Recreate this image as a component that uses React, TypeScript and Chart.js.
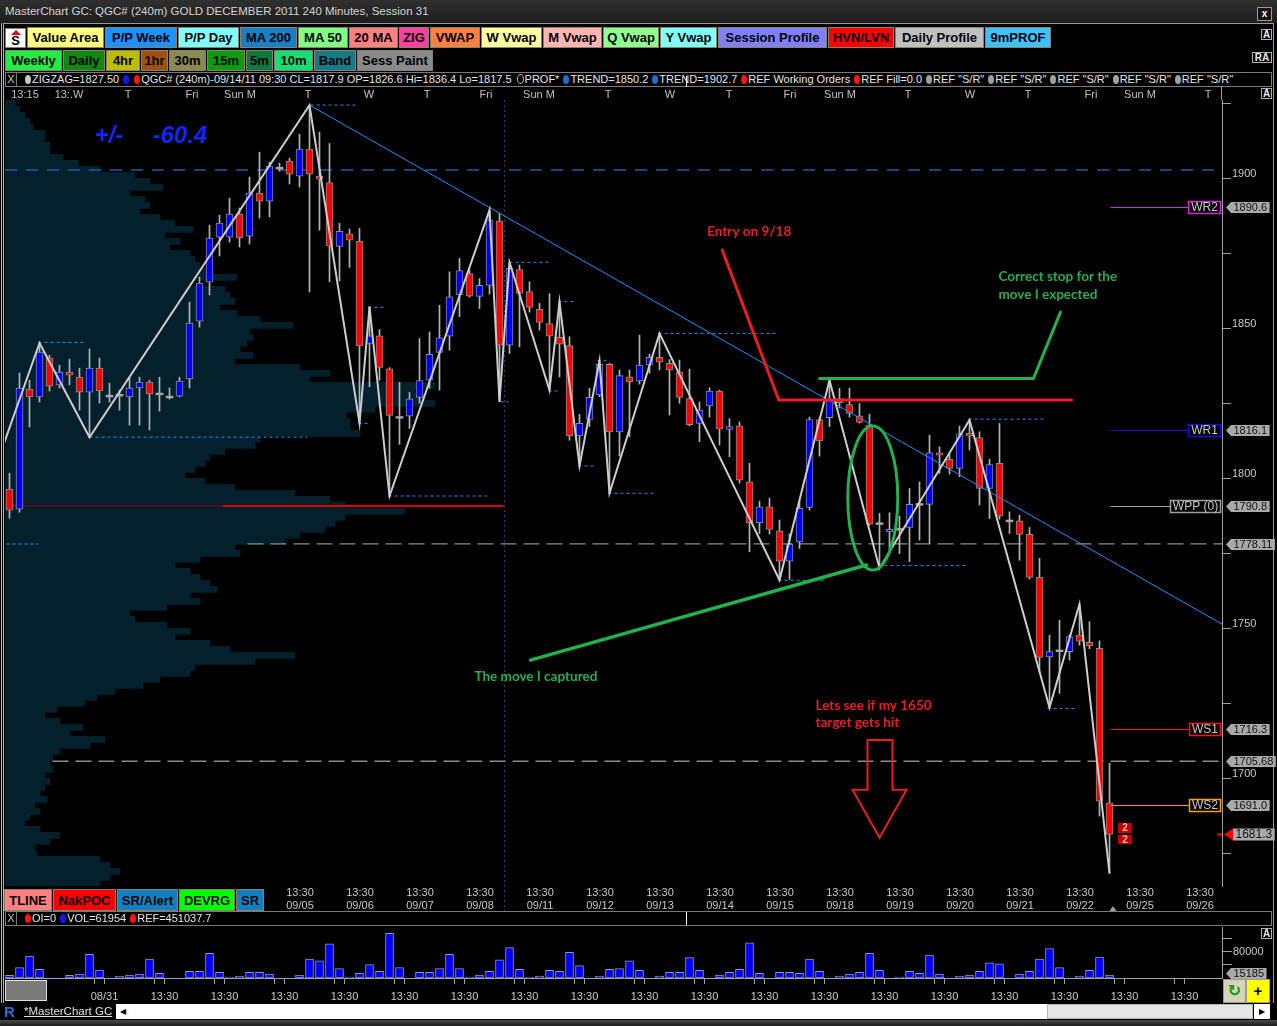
import React, { useEffect, useRef } from 'react';
import { Chart, registerables } from 'chart.js';

Chart.register(...registerables);

// ======================= DATA =======================
// 240-minute candles, bar index 0..110
const candleOpen = [
  1796.4, 1789.7, 1829.7, 1827.1, 1840.1, 1831.1, 1835.4, 1833.7, 1828.7, 1836.7,
  1827.4, 1827.7, 1827.1, 1830.1, 1832.1, 1828.1, 1827.1, 1827.4, 1833.1, 1852.4,
  1865.4, 1880.4, 1880.4, 1888.1, 1880.7, 1895.1, 1892.4, 1903.4, 1905.7, 1900.7,
  1909.7, 1900.7, 1898.6, 1877.3, 1881.5, 1879.0, 1845.0, 1847.5, 1836.5, 1820.3,
  1820.7, 1827.0, 1832.7, 1842.0, 1847.4, 1861.1, 1868.2, 1860.6, 1864.3, 1885.8,
  1844.4, 1869.6, 1862.2, 1856.3, 1851.6, 1847.0, 1844.2, 1814.1, 1819.6, 1827.8,
  1838.0, 1815.5, 1833.8, 1832.5, 1837.7, 1840.3, 1838.3, 1835.5, 1826.6, 1818.3,
  1824.1, 1829.1, 1816.3, 1817.5, 1798.8, 1785.2, 1790.5, 1782.5, 1772.4, 1778.8,
  1790.3, 1819.6, 1820.2, 1826.6, 1824.6, 1820.8, 1817.7, 1784.9, 1782.1, 1783.0,
  1783.6, 1791.3, 1791.3, 1808.5, 1806.3, 1803.3, 1815.0, 1813.6, 1796.6, 1805.0,
  1785.8, 1785.8, 1781.3, 1767.0, 1740.5, 1742.5, 1742.2, 1747.7, 1745.3, 1743.3,
  1691.8,
];
const candleHigh = [
  1801.7, 1835.1, 1832.7, 1845.1, 1841.0, 1837.7, 1839.7, 1836.7, 1843.1, 1840.1,
  1831.7, 1829.4, 1833.4, 1833.7, 1832.7, 1833.7, 1830.1, 1833.7, 1858.7, 1867.1,
  1884.4, 1887.7, 1893.4, 1890.1, 1900.4, 1908.7, 1905.4, 1905.1, 1906.7, 1914.7,
  1924.4, 1915.4, 1911.6, 1885.0, 1883.1, 1883.3, 1857.2, 1849.6, 1836.9, 1832.0,
  1828.6, 1846.6, 1848.8, 1857.7, 1868.8, 1873.3, 1869.4, 1866.6, 1889.4, 1888.3,
  1872.0, 1871.1, 1865.5, 1858.3, 1861.6, 1858.8, 1847.2, 1821.3, 1830.0, 1839.2,
  1838.3, 1836.1, 1836.1, 1847.7, 1841.4, 1848.3, 1839.6, 1839.4, 1836.4, 1825.4,
  1830.2, 1829.4, 1819.9, 1818.8, 1805.0, 1792.4, 1793.4, 1786.1, 1781.4, 1792.4,
  1820.4, 1820.4, 1832.7, 1830.0, 1830.0, 1824.9, 1821.4, 1788.3, 1788.5, 1787.4,
  1796.6, 1798.8, 1814.4, 1810.5, 1808.4, 1817.4, 1819.4, 1815.5, 1806.3, 1818.3,
  1788.8, 1787.7, 1783.6, 1773.3, 1747.7, 1752.7, 1747.9, 1758.1, 1752.2, 1745.8,
  1705.0,
];
const candleLow = [
  1786.7, 1788.7, 1817.1, 1825.4, 1829.1, 1830.1, 1831.1, 1822.7, 1813.7, 1825.1,
  1825.4, 1822.7, 1817.7, 1817.7, 1816.1, 1822.4, 1826.4, 1827.1, 1830.1, 1850.4,
  1861.1, 1874.1, 1878.7, 1877.1, 1878.1, 1886.7, 1887.1, 1902.4, 1898.1, 1897.1,
  1862.1, 1882.7, 1865.5, 1865.8, 1870.3, 1818.4, 1830.5, 1832.7, 1794.1, 1811.3,
  1816.6, 1825.0, 1830.0, 1829.4, 1842.7, 1853.9, 1860.4, 1856.6, 1861.4, 1825.5,
  1841.6, 1843.8, 1855.4, 1849.4, 1829.4, 1833.8, 1812.7, 1804.1, 1817.2, 1827.2,
  1795.0, 1807.4, 1813.8, 1831.4, 1835.0, 1836.1, 1821.1, 1825.0, 1817.5, 1812.2,
  1820.4, 1811.1, 1807.2, 1798.4, 1775.5, 1781.6, 1781.4, 1766.1, 1766.3, 1776.6,
  1789.4, 1807.4, 1817.2, 1823.4, 1820.4, 1818.4, 1784.4, 1770.0, 1774.9, 1774.9,
  1772.2, 1779.4, 1778.3, 1801.6, 1801.4, 1800.5, 1809.4, 1791.1, 1786.6, 1786.4,
  1781.6, 1772.7, 1766.4, 1735.4, 1723.6, 1728.3, 1739.4, 1744.4, 1743.2, 1687.4,
  1668.3,
];
const candleClose = [
  1789.4, 1830.1, 1827.1, 1842.1, 1830.7, 1835.4, 1834.4, 1828.7, 1836.7, 1829.1,
  1827.4, 1827.7, 1830.1, 1832.1, 1828.1, 1828.1, 1827.1, 1832.4, 1851.7, 1865.1,
  1880.1, 1885.1, 1888.1, 1880.1, 1895.1, 1892.4, 1904.1, 1903.4, 1901.4, 1909.7,
  1901.4, 1899.7, 1877.4, 1882.3, 1879.4, 1844.1, 1847.5, 1837.0, 1821.0, 1820.3,
  1826.5, 1832.6, 1841.3, 1846.8, 1860.5, 1869.2, 1860.7, 1864.3, 1886.1, 1844.4,
  1870.0, 1861.6, 1857.0, 1852.0, 1847.4, 1844.7, 1814.1, 1818.3, 1827.0, 1838.0,
  1815.5, 1834.2, 1832.2, 1837.7, 1840.3, 1838.7, 1836.1, 1827.0, 1817.9, 1822.7,
  1829.1, 1816.4, 1817.2, 1799.4, 1785.2, 1790.5, 1783.0, 1772.4, 1778.1, 1790.0,
  1819.6, 1812.5, 1826.4, 1825.2, 1821.6, 1818.6, 1784.7, 1784.9, 1783.0, 1783.0,
  1791.3, 1791.3, 1808.5, 1807.7, 1803.3, 1814.6, 1814.1, 1796.6, 1804.6, 1787.4,
  1785.8, 1781.3, 1767.0, 1740.3, 1742.2, 1742.5, 1747.2, 1745.7, 1744.1, 1692.4,
  1681.3,
];
const volumes = [
  7800, 31900, 66700, 26100, 0, 0, 7800, 11600, 72500, 24100,
  0, 5800, 8700, 11600, 58000, 14500, 0, 0, 20300, 20300,
  75400, 17400, 2900, 5800, 17400, 17400, 11600, 0, 0, 8700,
  58000, 52200, 104400, 29000, 2900, 14500, 40600, 20300, 136300, 31900,
  0, 17400, 17400, 29000, 72500, 29000, 2900, 8700, 20300, 55100,
  92800, 26100, 2900, 5800, 23200, 20300, 78300, 37700, 0, 5800,
  26100, 29000, 52200, 23200, 0, 5800, 17400, 17400, 61954, 23200,
  0, 8700, 17400, 26100, 107300, 14500, 0, 17400, 17400, 14500,
  58000, 20300, 0, 5800, 11600, 17400, 75400, 23200, 0, 2900,
  20300, 14500, 69600, 11600, 0, 5800, 8700, 20300, 46400, 43500,
  0, 11600, 20300, 58000, 89900, 31900, 0, 5800, 23200, 63800,
  9000,
];
const lastVolumeTag = 15185;

// zigzag pivots (bar index, price)
const zigzagBars = [-0.5, 3, 8, 30, 35, 36, 38, 48, 49, 50, 54, 55, 57, 59, 60, 65, 77, 82, 87, 96, 104, 107, 110];
const zigzagPrices = [1812.1, 1845.1, 1813.7, 1924.4, 1818.4, 1857.2, 1794.1, 1889.4, 1825.5, 1872.0, 1829.4, 1858.8, 1804.1, 1839.2, 1795.0, 1848.3, 1766.1, 1832.7, 1770.0, 1819.4, 1723.6, 1758.1, 1668.3];

// down trend line
const trendBars = [30, 121.25];
const trendPrices = [1924.4, 1751.4];

// short dashed pivot levels
const pivotDashFrom = [30.1, 2.9, 8.0, 35.9, 34.9, 37.9, 49.1, 50.0, 53.9, 54.9, 56.9, 58.8, 59.9, 64.9, 76.9, 86.9, 95.9, 103.8, -0.3];
const pivotDashTo = [34.6, 7.6, 29.8, 37.6, 35.9, 47.9, 49.9, 53.9, 54.9, 56.6, 58.6, 59.9, 64.6, 76.8, 81.6, 95.8, 103.6, 106.8, 2.9];
const pivotDashPrice = [1924.4, 1845.3, 1813.7, 1857.0, 1818.3, 1794.1, 1825.5, 1872.0, 1829.1, 1858.9, 1804.1, 1839.2, 1795.0, 1848.3, 1766.0, 1770.9, 1819.7, 1723.3, 1778.1];

// long horizontal levels
const levelPrices = [1902.8, 1778.11, 1705.68, 1790.8, 1790.8];
const levelFrom = [-0.45, 23.8, 4.3, -0.45, 21.3];
const levelTo = [121.25, 121.25, 121.25, 21.3, 49.4];

// weekly pivots
const pivotNames = ['WR2', 'WR1', 'WPP (0)', 'WS1', 'WS2'];
const pivotValues = [1890.6, 1816.1, 1790.8, 1716.3, 1691.0];
const pivotFromBar = 110.1;

// right axis tags
const tagValues = [1890.6, 1816.1, 1790.8, 1778.11, 1716.3, 1705.68, 1691.0];
const lastPrice = 1681.3;
const sessionBreaks = [49.4];

// axes
const priceTicks = [1675, 1700, 1725, 1750, 1775, 1800, 1825, 1850, 1875, 1900, 1925];
const xTickDates = ['09/05', '09/06', '09/07', '09/08', '09/11', '09/12', '09/13', '09/14', '09/15', '09/18', '09/19', '09/20', '09/21', '09/22', '09/25', '09/26'];
const xTickFirst = 29.05;
const barsPerDay = 6;
const topLabels = ['13:15', '13:.W', 'T', 'Fri', 'Sun M', 'T', 'W', 'T', 'Fri', 'Sun M', 'T', 'W', 'T', 'Fri', 'Sun M', 'T', 'W', 'T', 'Fri', 'Sun M', 'T'];
const topLabelBars = [1.55, 5.95, 11.85, 18.25, 23.05, 29.85, 35.95, 41.75, 47.65, 52.95, 59.85, 66.05, 71.95, 78.05, 83.05, 89.85, 96.05, 101.85, 108.15, 113.05, 119.85];
const volTickLabels = ['08/31', '13:30', '13:30', '13:30', '13:30', '13:30', '13:30', '13:30', '13:30', '13:30', '13:30', '13:30', '13:30', '13:30', '13:30', '13:30', '13:30', '13:30', '13:30'];
const volTickFirst = 9.5;
const volAxisTicks = [40000, 80000, 120000];

// volume profile (2-point buckets from the top price down)
const profileTop = 1925;
const profileStep = 2;
const profileWidths = [
  10, 15, 20, 25, 28, 40, 40, 45, 45, 58,
  73, 95, 130, 145, 158, 125, 140, 145, 135, 155,
  170, 188, 160, 175, 165, 185, 190, 195, 205, 232,
  185, 220, 225, 230, 215, 232, 255, 288, 245, 248,
  242, 235, 248, 230, 295, 325, 305, 430, 410, 420,
  430, 370, 341, 345, 345, 355, 255, 250, 220, 205,
  200, 190, 180, 200, 230, 290, 325, 340, 400, 340,
  330, 320, 295, 280, 230, 235, 195, 170, 185, 195,
  205, 212, 185, 195, 162, 125, 130, 162, 185, 170,
  205, 225, 290, 250, 190, 185, 155, 138, 110, 92,
  80, 52, 40, 55, 78, 65, 100, 85, 55, 48,
  45, 48, 40, 45, 40, 35, 42, 30, 35, 25,
  20, 35, 55, 45, 30, 32, 95, 105, 115, 105,
  95,
];

// hand drawn annotations (bar index, price)
const entryBars = [71.27, 76.93, 106.2];
const entryPrices = [1876.1, 1826.1, 1826.1];
const stopBars = [105.1, 102.4, 81.0];
const stopPrices = [1855.4, 1833.3, 1833.3];
const capturedBars = [52.1, 85.7];
const capturedPrices = [1739.4, 1771.1];
const ellipseCenter = [86.33, 1793.4];
const ellipseRadius = [2.5, 24];
const arrowBars = [85.8, 88.3, 88.3, 89.7, 87.0, 84.3, 85.8];
const arrowPrices = [1712.8, 1712.8, 1696.2, 1696.2, 1680.2, 1696.2, 1696.2];
const noteTexts = ['Entry on 9/18', 'Correct stop for the', 'move I expected', 'The move I captured', 'Lets see if my 1650', 'target gets hit'];
const noteBars = [69.77, 98.9, 98.9, 46.5, 80.6, 80.6];
const notePrices = [1882.2, 1867.2, 1861.3, 1733.8, 1724.1, 1718.4];
const rangeTexts = ['+/-', '-60.4'];
const rangeBars = [8.5, 14.3];
const rangePrice = 1914.1;

// ======================= STYLE / LAYOUT =======================
const X_MIN = -0.45, X_MAX = 121.25;
const Y_MIN = 1664.1, Y_MAX = 1926.1;
const VOL_MAX = 153700;
const MAIN_TOP = 86, MAIN_H = 829;
const VOL_TOP = 920, VOL_H = 84;
const PAGE_W = 1277, PAGE_H = 1026;
const SANS = "'Liberation Sans', Arial, sans-serif";
const NARROW = "'Liberation Sans Narrow', 'Liberation Sans', Arial, sans-serif";
const NOTE = "Lato, 'Open Sans', sans-serif";
const PAINT_RED = '#ed1c24';
const PAINT_GREEN = '#22b14c';
const noteColors = [PAINT_RED, PAINT_GREEN, PAINT_GREEN, PAINT_GREEN, PAINT_RED, PAINT_RED];
const pivotColors = ['#e020e0', '#1010e0', '#a0a0a0', '#ff1010', '#ffa000'];
const levelStyles = [
  { color: '#1d5cab', width: 1.5, dash: [12, 9] },
  { color: '#8c8c8c', width: 1.3, dash: [16, 7] },
  { color: '#8c8c8c', width: 1.3, dash: [16, 7] },
  { color: '#a00000', width: 1, dash: [] },
  { color: '#e00000', width: 2, dash: [] },
];

function fmtTag(v: number) {
  const t = v * 10;
  return Math.abs(Math.round(t) - t) < 1e-6 ? v.toFixed(1) : v.toFixed(2);
}
function pts(bars: number[], prices: number[]) {
  return bars.map((b, i) => ({ x: b, y: prices[i] }));
}

function drawTag(ctx: any, tip: number, py: number, label: string, h: number, gap: number) {
  const tw = ctx.measureText(label).width;
  const bx = tip + gap, bw = tw + 5;
  ctx.fillStyle = '#a9a9a9';
  ctx.beginPath();
  ctx.moveTo(tip, py);
  ctx.lineTo(bx, py - h / 2);
  ctx.lineTo(bx + bw, py - h / 2);
  ctx.lineTo(bx + bw, py + h / 2);
  ctx.lineTo(bx, py + h / 2);
  ctx.closePath();
  ctx.fill();
  ctx.fillStyle = '#111';
  ctx.fillText(label, bx + 2.5, py + 0.5);
}

const mainOverlay = {
  id: 'mainOverlay',
  beforeDatasetsDraw(chart: any) {
    const { ctx, chartArea: a } = chart;
    const x = chart.scales.x;
    ctx.save();
    ctx.strokeStyle = '#33475a';
    ctx.lineWidth = 1;
    ctx.setLineDash([2, 3]);
    sessionBreaks.forEach((b) => {
      const px = Math.round(x.getPixelForValue(b)) + 0.5;
      ctx.beginPath();
      ctx.moveTo(px, a.top);
      ctx.lineTo(px, a.bottom + 26);
      ctx.stroke();
    });
    ctx.restore();
  },
  afterDatasetsDraw(chart: any) {
    const { ctx, chartArea: a } = chart;
    const x = chart.scales.x, y = chart.scales.y;
    ctx.save();
    // weekly pivot boxes
    ctx.font = `12px ${NARROW}`;
    ctx.textBaseline = 'middle';
    pivotNames.forEach((name, i) => {
      const py = Math.round(y.getPixelForValue(pivotValues[i])) + 0.5;
      const tw = ctx.measureText(name).width;
      const bw = Math.round(tw + 6);
      const bx = Math.round(a.right) - bw - 1;
      ctx.strokeStyle = pivotColors[i];
      ctx.lineWidth = 1;
      ctx.setLineDash([]);
      ctx.beginPath();
      ctx.moveTo(x.getPixelForValue(pivotFromBar), py);
      ctx.lineTo(bx, py);
      ctx.stroke();
      ctx.fillStyle = '#000';
      ctx.fillRect(bx, py - 6, bw, 12);
      ctx.lineWidth = 1.5;
      ctx.strokeRect(bx + 0.5, py - 6, bw - 1, 12);
      ctx.fillStyle = '#c8c8c8';
      ctx.textAlign = 'center';
      ctx.fillText(name, bx + bw / 2, py + 0.5);
    });

    // ellipse
    const cx = x.getPixelForValue(ellipseCenter[0]);
    const cy = y.getPixelForValue(ellipseCenter[1]);
    const rx = x.getPixelForValue(ellipseCenter[0] + ellipseRadius[0]) - cx;
    const ry = cy - y.getPixelForValue(ellipseCenter[1] + ellipseRadius[1]);
    ctx.strokeStyle = PAINT_GREEN;
    ctx.lineWidth = 3;
    ctx.beginPath();
    ctx.ellipse(cx, cy, rx, ry, 0, 0, Math.PI * 2);
    ctx.stroke();

    // arrow
    ctx.strokeStyle = PAINT_RED;
    ctx.lineWidth = 2;
    ctx.lineJoin = 'miter';
    ctx.beginPath();
    arrowBars.forEach((b, i) => {
      const px = x.getPixelForValue(b), py = y.getPixelForValue(arrowPrices[i]);
      if (i === 0) ctx.moveTo(px, py); else ctx.lineTo(px, py);
    });
    ctx.closePath();
    ctx.stroke();

    // notes
    ctx.font = `bold 13.5px ${NOTE}`;
    ctx.textAlign = 'left';
    ctx.textBaseline = 'middle';
    noteTexts.forEach((t, i) => {
      ctx.fillStyle = noteColors[i];
      ctx.fillText(t, x.getPixelForValue(noteBars[i]), y.getPixelForValue(notePrices[i]));
    });

    // +/- range label
    ctx.font = `italic bold 24px ${SANS}`;
    ctx.fillStyle = '#0a28ff';
    rangeTexts.forEach((t, i) => {
      ctx.fillText(t, x.getPixelForValue(rangeBars[i]), y.getPixelForValue(rangePrice));
    });

    // order markers next to last bar
    const lastIdx = candleClose.length - 1;
    const lx = Math.round(x.getPixelForValue(lastIdx));
    const ly = Math.round(y.getPixelForValue(lastPrice));
    ctx.font = `bold 10px ${SANS}`;
    ctx.textAlign = 'center';
    [[ly - 11, 10], [ly + 1, 9]].forEach(([top, h]) => {
      ctx.fillStyle = '#c40000';
      ctx.fillRect(lx + 8, top, 14, h);
      ctx.fillStyle = '#ffb8b8';
      ctx.fillText('2', lx + 15, top + h / 2 + 0.5);
    });
    ctx.restore();
  },
  afterDraw(chart: any) {
    const { ctx, chartArea: a } = chart;
    const x = chart.scales.x, y = chart.scales.y;
    ctx.save();
    ctx.textBaseline = 'middle';
    ctx.textAlign = 'left';
    ctx.font = `11px ${NARROW}`;
    tagValues.forEach((v) => {
      const py = Math.round(y.getPixelForValue(v)) + 0.5;
      drawTag(ctx, a.right + 4, py, fmtTag(v), 11, 5);
    });
    // last price
    const py = Math.round(y.getPixelForValue(lastPrice)) + 0.5;
    ctx.font = `12px ${NARROW}`;
    const label = fmtTag(lastPrice);
    const tw = ctx.measureText(label).width;
    const tip = a.right + 2, bx = tip + 9, bw = tw + 5;
    ctx.fillStyle = '#ff0000';
    ctx.beginPath();
    ctx.moveTo(tip, py);
    ctx.lineTo(bx, py - 6);
    ctx.lineTo(bx, py + 6);
    ctx.closePath();
    ctx.fill();
    ctx.fillStyle = '#a9a9a9';
    ctx.fillRect(bx, py - 6, bw, 12);
    ctx.fillStyle = '#111';
    ctx.fillText(label, bx + 2.5, py + 0.5);
    ctx.strokeStyle = '#ff0000';
    ctx.lineWidth = 2;
    ctx.beginPath();
    ctx.moveTo(a.right - 5, py);
    ctx.lineTo(a.right, py);
    ctx.stroke();
    // current bar marker
    const mx = x.getPixelForValue(candleClose.length - 0.65);
    ctx.fillStyle = '#a0a0a0';
    ctx.beginPath();
    ctx.moveTo(mx, a.bottom + 20);
    ctx.lineTo(mx - 3.5, a.bottom + 25);
    ctx.lineTo(mx + 3.5, a.bottom + 25);
    ctx.closePath();
    ctx.fill();
    ctx.restore();
  },
};

const volOverlay = {
  id: 'volOverlay',
  afterDraw(chart: any) {
    const { ctx, chartArea: a } = chart;
    const y = chart.scales.y;
    ctx.save();
    ctx.font = `11px ${NARROW}`;
    ctx.textBaseline = 'middle';
    ctx.textAlign = 'left';
    const py = Math.round(y.getPixelForValue(lastVolumeTag)) + 0.5;
    drawTag(ctx, a.right + 4, py, String(lastVolumeTag), 11, 5);
    ctx.restore();
  },
};

function makeProfile(canvas: HTMLCanvasElement) {
  return new Chart(canvas, {
    type: 'bar',
    data: {
      datasets: [
        {
          data: profileWidths.map((w, i) => ({ x: w, y: profileTop - i * profileStep })),
          backgroundColor: '#03202c',
          borderWidth: 0,
          barThickness: 6,
          grouped: false,
        } as any,
      ],
    },
    options: {
      indexAxis: 'y',
      responsive: false,
      animation: false,
      events: [],
      layout: { padding: { left: 5, right: 55, top: 14, bottom: 29 } },
      plugins: { legend: { display: false }, tooltip: { enabled: false } },
      scales: {
        x: { type: 'linear', min: 0, max: 1217, display: false, offset: false },
        y: { type: 'linear', min: Y_MIN, max: Y_MAX, display: false, offset: false, grid: { offset: false } },
      },
    } as any,
  });
}

function makeMain(canvas: HTMLCanvasElement) {
  const idx = candleOpen.map((_, i) => i);
  const wicks = idx.map((i) => ({ x: i, y: [candleLow[i], candleHigh[i]] }));
  const bodies = idx.map((i) => {
    const o = candleOpen[i], c = candleClose[i];
    return o === c ? { x: i, y: [o - 0.3, o + 0.3] } : { x: i, y: [Math.min(o, c), Math.max(o, c)] };
  });
  const bodyColors = idx.map((i) => (candleClose[i] > candleOpen[i] ? '#0000ff' : candleClose[i] < candleOpen[i] ? '#ff0000' : '#a8a8a8'));
  const bodyBorders = idx.map((i) => (candleClose[i] === candleOpen[i] ? 0 : 1));
  const pivotData: any[] = [];
  pivotDashPrice.forEach((p, i) => {
    pivotData.push({ x: pivotDashFrom[i], y: p }, { x: pivotDashTo[i], y: p }, { x: pivotDashTo[i] + 0.01, y: null });
  });
  const axes = { xAxisID: 'x', yAxisID: 'y' };
  const lineBase = { type: 'line', pointRadius: 0, tension: 0, ...axes };
  const datasets: any[] = [
    { ...lineBase, data: pts(entryBars, entryPrices), borderColor: PAINT_RED, borderWidth: 3, borderCapStyle: 'round', order: 0 },
    { ...lineBase, data: pts(stopBars, stopPrices), borderColor: PAINT_GREEN, borderWidth: 3, borderCapStyle: 'round', order: 0 },
    { ...lineBase, data: pts(capturedBars, capturedPrices), borderColor: PAINT_GREEN, borderWidth: 3.5, borderCapStyle: 'round', order: 0 },
    { ...lineBase, data: pts(zigzagBars, zigzagPrices), borderColor: '#cdcdcd', borderWidth: 2, order: 1 },
    { ...lineBase, data: pts(trendBars, trendPrices), borderColor: '#1e8fff', borderWidth: 1, order: 2 },
    { type: 'bar', ...axes, data: bodies, backgroundColor: bodyColors, borderColor: '#8c8c8c', borderWidth: bodyBorders, borderSkipped: false, barThickness: 7, grouped: false, order: 5 },
    { type: 'bar', ...axes, data: wicks, backgroundColor: '#b4b4b4', borderWidth: 0, barThickness: 1, grouped: false, order: 6 },
    { ...lineBase, data: pivotData, borderColor: '#1e90ff', borderWidth: 1, borderDash: [3, 3], spanGaps: false, order: 7 },
  ];
  levelPrices.forEach((p, i) => {
    const s = levelStyles[i];
    datasets.push({ ...lineBase, data: [{ x: levelFrom[i], y: p }, { x: levelTo[i], y: p }], borderColor: s.color, borderWidth: s.width, borderDash: s.dash, order: 8 });
  });

  const xCommon = { type: 'linear', min: X_MIN, max: X_MAX, offset: false };
  return new Chart(canvas, {
    type: 'bar',
    data: { datasets },
    options: {
      responsive: false,
      animation: false,
      events: [],
      layout: { padding: { left: 5, right: 0, top: 0, bottom: 0 } },
      plugins: { legend: { display: false }, tooltip: { enabled: false } },
      scales: {
        x: {
          ...xCommon,
          position: 'bottom',
          grid: { display: false, drawTicks: false, tickLength: 0, offset: false },
          border: { display: false },
          afterBuildTicks: (s: any) => { s.ticks = xTickDates.map((_, i) => ({ value: xTickFirst + i * barsPerDay })); },
          afterFit: (s: any) => { s.height = 29; },
          ticks: { autoSkip: false, maxRotation: 0, minRotation: 0, padding: 0, color: '#c8c8c8', font: { family: SANS, size: 11 }, callback: (_v: any, i: number) => ['13:30', xTickDates[i]] },
        },
        xTop: {
          ...xCommon,
          position: 'top',
          grid: { display: false, drawTicks: false, tickLength: 0, offset: false },
          border: { display: false },
          afterBuildTicks: (s: any) => { s.ticks = topLabelBars.map((v) => ({ value: v })); },
          afterFit: (s: any) => { s.height = 14; },
          ticks: { autoSkip: false, maxRotation: 0, minRotation: 0, padding: 0, color: '#c0c0c0', font: { family: SANS, size: 11, lineHeight: 1 }, callback: (_v: any, i: number) => topLabels[i] },
        },
        y: {
          type: 'linear',
          position: 'right',
          min: Y_MIN,
          max: Y_MAX,
          grid: { display: true, drawOnChartArea: false, drawTicks: true, tickLength: 9, color: '#a0a0a0' },
          border: { display: true, color: '#a0a0a0' },
          afterBuildTicks: (s: any) => { s.ticks = priceTicks.map((v) => ({ value: v })); },
          afterFit: (s: any) => { s.width = 55; },
          ticks: { padding: 1, labelOffset: -4, color: '#c8c8c8', font: { family: NARROW, size: 11 }, callback: (v: any) => (v % 50 === 0 ? String(v) : '') },
        },
      },
    } as any,
    plugins: [mainOverlay],
  });
}

function makeVolume(canvas: HTMLCanvasElement) {
  return new Chart(canvas, {
    type: 'bar',
    data: {
      datasets: [
        {
          data: volumes.map((v, i) => ({ x: i, y: v })),
          backgroundColor: '#0000ff',
          borderColor: '#9a9a9a',
          borderWidth: volumes.map((v) => (v > 0 ? 1 : 0)),
          borderSkipped: false,
          barThickness: 8,
          grouped: false,
        } as any,
      ],
    },
    options: {
      responsive: false,
      animation: false,
      events: [],
      layout: { padding: { left: 5, right: 0, top: 5, bottom: 0 } },
      plugins: { legend: { display: false }, tooltip: { enabled: false } },
      scales: {
        x: {
          type: 'linear', min: X_MIN, max: X_MAX, offset: false,
          grid: { display: true, drawOnChartArea: false, drawTicks: true, tickLength: 6, color: '#a0a0a0', offset: false },
          border: { display: true, color: '#a0a0a0' },
          afterBuildTicks: (s: any) => {
            const t: any[] = [];
            volTickLabels.forEach((_, i) => {
              const v = volTickFirst + i * barsPerDay;
              t.push({ value: v - 1 }, { value: v });
            });
            s.ticks = t;
          },
          afterFit: (s: any) => { s.height = 26; },
          ticks: { autoSkip: false, maxRotation: 0, minRotation: 0, padding: 6, color: '#c8c8c8', font: { family: SANS, size: 11 }, callback: (_v: any, i: number) => (i % 2 === 1 ? volTickLabels[(i - 1) / 2] : '') },
        },
        y: {
          type: 'linear', position: 'right', min: 0, max: VOL_MAX,
          grid: { display: true, drawOnChartArea: false, drawTicks: true, tickLength: 10, color: '#a0a0a0' },
          border: { display: true, color: '#a0a0a0' },
          afterBuildTicks: (s: any) => { s.ticks = volAxisTicks.map((v) => ({ value: v })); },
          afterFit: (s: any) => { s.width = 55; },
          ticks: { padding: 1, color: '#c8c8c8', font: { family: NARROW, size: 11 }, callback: (v: any) => (v === 80000 ? '80000' : '') },
        },
      },
    } as any,
    plugins: [volOverlay],
  });
}

// ======================= UI PIECES =======================
const row1: [string, string, number][] = [
  ['Value Area', '#ffff80', 77], ['P/P Week', '#1e90ff', 72], ['P/P Day', '#80ffff', 61], ['MA 200', '#1680c8', 57],
  ['MA 50', '#80ff80', 50], ['20 MA', '#ff8080', 49], ['ZIG', '#ff40a0', 30], ['VWAP', '#ff8040', 50],
  ['W Vwap', '#ffffa0', 61], ['M Vwap', '#ffb4b4', 59], ['Q Vwap', '#90ff90', 56], ['Y Vwap', '#80ffff', 57],
  ['Session Profile', '#8080ff', 109], ['HVN/LVN', '#ff0000', 66], ['Daily Profile', '#c0c0c0', 89], ['9mPROF', '#40c0ff', 66],
];
const row2: [string, string, number][] = [
  ['Weekly', '#22ee44', 57], ['Daily', '#0c8a0c', 42], ['4hr', '#bcbc00', 34], ['1hr', '#a05010', 27],
  ['30m', '#8a8a52', 37], ['15m', '#0c9c0c', 38], ['5m', '#0c7a40', 27], ['10m', '#12e074', 39],
  ['Band', '#167a88', 42], ['Sess Paint', '#8a8a8a', 76],
];
const row3: [string, string, number][] = [
  ['TLINE', '#ff8080', 48], ['NakPOC', '#ff0000', 63], ['SR/Alert', '#1280c0', 61], ['DEVRG', '#00ff00', 56], ['SR', '#1280c0', 28],
];
const infoItems: [string[], string][] = [
  [['#c8c8c8'], 'ZIGZAG=1827.50'],
  [['#1414ff', '#ff1414'], 'QGC# (240m)-09/14/11 09:30 CL=1817.9 OP=1826.6 Hi=1836.4 Lo=1817.5'],
  [['hollow'], 'PROF*'],
  [['#1a6fd8'], 'TREND=1850.2'],
  [['#1a6fd8'], 'TREND=1902.7'],
  [['#ff1414'], 'REF Working Orders'],
  [['#ff1414'], 'REF Fill=0.0'],
  [['#a0a0a0'], 'REF "S/R"'],
  [['#a0a0a0'], 'REF "S/R"'],
  [['#a0a0a0'], 'REF "S/R"'],
  [['#a0a0a0'], 'REF "S/R"'],
  [['#a0a0a0'], 'REF "S/R"'],
];
const oiItems: [string[], string][] = [
  [['#ff1414'], 'OI=0'],
  [['#1414ff'], 'VOL=61954'],
  [['#ff1414'], 'REF=451037.7'],
];

function ButtonRow({ items, x, y, h }: { items: [string, string, number][]; x: number; y: number; h: number }) {
  let left = x;
  return (
    <>
      {items.map(([label, bg, w], i) => {
        const el = (
          <div
            key={i}
            style={{
              position: 'absolute', left, top: y, width: w, height: h, background: bg, boxSizing: 'border-box',
              border: '1px solid #8a8266', color: '#000', font: `bold 13px ${SANS}`, display: 'flex',
              alignItems: 'center', justifyContent: 'center', whiteSpace: 'nowrap', overflow: 'hidden',
            }}
          >
            {label}
          </div>
        );
        left += w + 1;
        return el;
      })}
    </>
  );
}

function Dot({ c }: { c: string }) {
  if (c === 'hollow') {
    return <span style={{ display: 'inline-block', width: 5, height: 8, borderRadius: '50%', border: '1px solid #b8b8b8', marginLeft: 5, marginRight: 1, verticalAlign: '-1px' }} />;
  }
  return <span style={{ display: 'inline-block', width: 6, height: 9, borderRadius: '50%', background: c, marginLeft: 4, marginRight: 1, verticalAlign: '-1px' }} />;
}

function InfoRow({ items, top }: { items: [string[], string][]; top: number }) {
  return (
    <div style={{ position: 'absolute', left: 5, top, width: 1267, height: 15, boxSizing: 'border-box', border: '1px solid #7a7a7a', color: '#e6e6e6', font: `11px ${SANS}`, lineHeight: '13px', whiteSpace: 'nowrap', overflow: 'hidden' }}>
      <span style={{ display: 'inline-block', width: 10, textAlign: 'center', borderRight: '1px solid #7a7a7a', color: '#c0c0c0', marginRight: 4 }}>X</span>
      {items.map(([dots, text], i) => (
        <span key={i}>
          {dots.map((d, j) => <Dot key={j} c={d} />)}
          {text}
        </span>
      ))}
    </div>
  );
}

function SmallBox({ left, top, w, text }: { left: number; top: number; w: number; text: string }) {
  return (
    <div style={{ position: 'absolute', left, top, width: w, height: 11, boxSizing: 'border-box', border: '1px solid #b0b0b0', color: '#e8e8e8', font: `bold 10px ${SANS}`, lineHeight: '9px', textAlign: 'center' }}>{text}</div>
  );
}

export default function App() {
  const profRef = useRef<HTMLCanvasElement>(null);
  const mainRef = useRef<HTMLCanvasElement>(null);
  const volRef = useRef<HTMLCanvasElement>(null);

  useEffect(() => {
    const charts = [makeProfile(profRef.current!), makeMain(mainRef.current!), makeVolume(volRef.current!)];
    return () => charts.forEach((c) => c.destroy());
  }, []);

  const abs = (s: any) => ({ position: 'absolute', ...s } as any);

  return (
    <div style={{ position: 'fixed', left: 0, top: 0, width: PAGE_W, height: PAGE_H, background: '#000', overflow: 'hidden', fontFamily: SANS }}>
      {/* title bar */}
      <div style={abs({ left: 0, top: 0, width: PAGE_W, height: 23, background: 'linear-gradient(180deg,#303030 0%,#1d1d1d 100%)' })} />
      <div style={abs({ left: 5, top: 5, color: '#d4d4d4', font: `11.5px ${SANS}`, whiteSpace: 'nowrap' })}>MasterChart GC: QGC# (240m) GOLD DECEMBER 2011 240 Minutes, Session 31</div>
      <div style={abs({ left: 1257, top: 7, width: 15, height: 14, boxSizing: 'border-box', border: '1px solid #9a9a9a', background: '#151515', color: '#fff', font: `bold 10px ${SANS}`, lineHeight: '12px', textAlign: 'center' })}>x</div>

      {/* frame */}
      <div style={abs({ left: 3, top: 23, width: 1271, height: 1, background: '#9a9a9a' })} />
      <div style={abs({ left: 1, top: 23, width: 1, height: 980, background: '#b8b8b8' })} />
      <div style={abs({ left: 3, top: 23, width: 1, height: 980, background: '#b8b8b8' })} />
      <div style={abs({ left: 1273, top: 23, width: 1, height: 980, background: '#9a9a9a' })} />

      {/* toolbars */}
      <div style={abs({ left: 5, top: 28, width: 21, height: 20, background: '#fff', boxSizing: 'border-box', border: '1px solid #8a8266' })}>
        <div style={abs({ left: 5, top: 1, width: 0, height: 0, borderLeft: '5px solid transparent', borderRight: '5px solid transparent', borderBottom: '5px solid #e00000' })} />
        <div style={abs({ left: 0, top: 4, width: 19, textAlign: 'center', font: `bold 13px ${SANS}`, color: '#000' })}>S</div>
      </div>
      <ButtonRow items={row1} x={27} y={27} h={21} />
      <ButtonRow items={row2} x={5} y={50} h={21} />
      <SmallBox left={1261} top={29} w={11} text="A" />
      <SmallBox left={1252} top={52} w={20} text="RA" />

      <InfoRow items={infoItems} top={72} />
      <div style={abs({ left: 686, top: 76, width: 1, height: 11, background: '#fff' })} />
      <SmallBox left={1261} top={88} w={11} text="A" />
      <div style={abs({ left: 1221, top: 86, width: 1, height: 14, background: '#a0a0a0' })} />

      {/* main chart */}
      <canvas ref={profRef} width={PAGE_W} height={MAIN_H} style={abs({ left: 0, top: MAIN_TOP })} />
      <canvas ref={mainRef} width={PAGE_W} height={MAIN_H} style={abs({ left: 0, top: MAIN_TOP })} />

      <ButtonRow items={row3} x={4} y={889} h={22} />

      {/* volume pane */}
      <InfoRow items={oiItems} top={911} />
      <div style={abs({ left: 686, top: 912, width: 1, height: 13, background: '#fff' })} />
      <canvas ref={volRef} width={PAGE_W} height={VOL_H} style={abs({ left: 0, top: VOL_TOP })} />
      <SmallBox left={1261} top={928} w={11} text="A" />
      <div style={abs({ left: 5, top: 980, width: 42, height: 21, boxSizing: 'border-box', background: '#7a7a7a', border: '1px solid #e0e0e0' })} />
      <div style={abs({ left: 1223, top: 979, width: 23, height: 24, boxSizing: 'border-box', background: '#d6d2bc', border: '1px solid #a09a80', color: '#109a10', font: `bold 16px 'DejaVu Sans', sans-serif`, lineHeight: '21px', textAlign: 'center' })}>↻</div>
      <div style={abs({ left: 1246, top: 979, width: 24, height: 24, boxSizing: 'border-box', background: '#ffff00', border: '1px solid #a09a80', color: '#000', font: `bold 15px ${SANS}`, lineHeight: '21px', textAlign: 'center' })}>+</div>

      {/* bottom strip */}
      <div style={abs({ left: 4, top: 1004, width: 16, height: 15, color: '#2a6fd6', font: `bold 15px ${SANS}`, lineHeight: '15px' })}>R</div>
      <div style={abs({ left: 20, top: 1003, width: 96, height: 17, background: '#000', color: '#e0e0e0', font: `11.5px ${SANS}`, lineHeight: '17px', textDecoration: 'underline', paddingLeft: 4, boxSizing: 'border-box', whiteSpace: 'nowrap', overflow: 'hidden' })}>*MasterChart GC</div>
      <div style={abs({ left: 116, top: 1004, width: 13, height: 15, background: '#fff', color: '#000', font: `8px ${SANS}`, lineHeight: '15px', textAlign: 'center' })}>◀</div>
      <div style={abs({ left: 129, top: 1004, width: 918, height: 15, background: '#fff' })} />
      <div style={abs({ left: 1047, top: 1004, width: 206, height: 15, background: '#e6e6e6', boxSizing: 'border-box', border: '1px solid #b8b8b8' })} />
      <div style={abs({ left: 1254, top: 1004, width: 16, height: 15, background: '#fff', color: '#000', font: `8px ${SANS}`, lineHeight: '15px', textAlign: 'center' })}>▶</div>
      <div style={abs({ left: 0, top: 1020, width: PAGE_W, height: 6, background: 'linear-gradient(180deg,#4a4a4a,#1e1e1e)' })} />
    </div>
  );
}
